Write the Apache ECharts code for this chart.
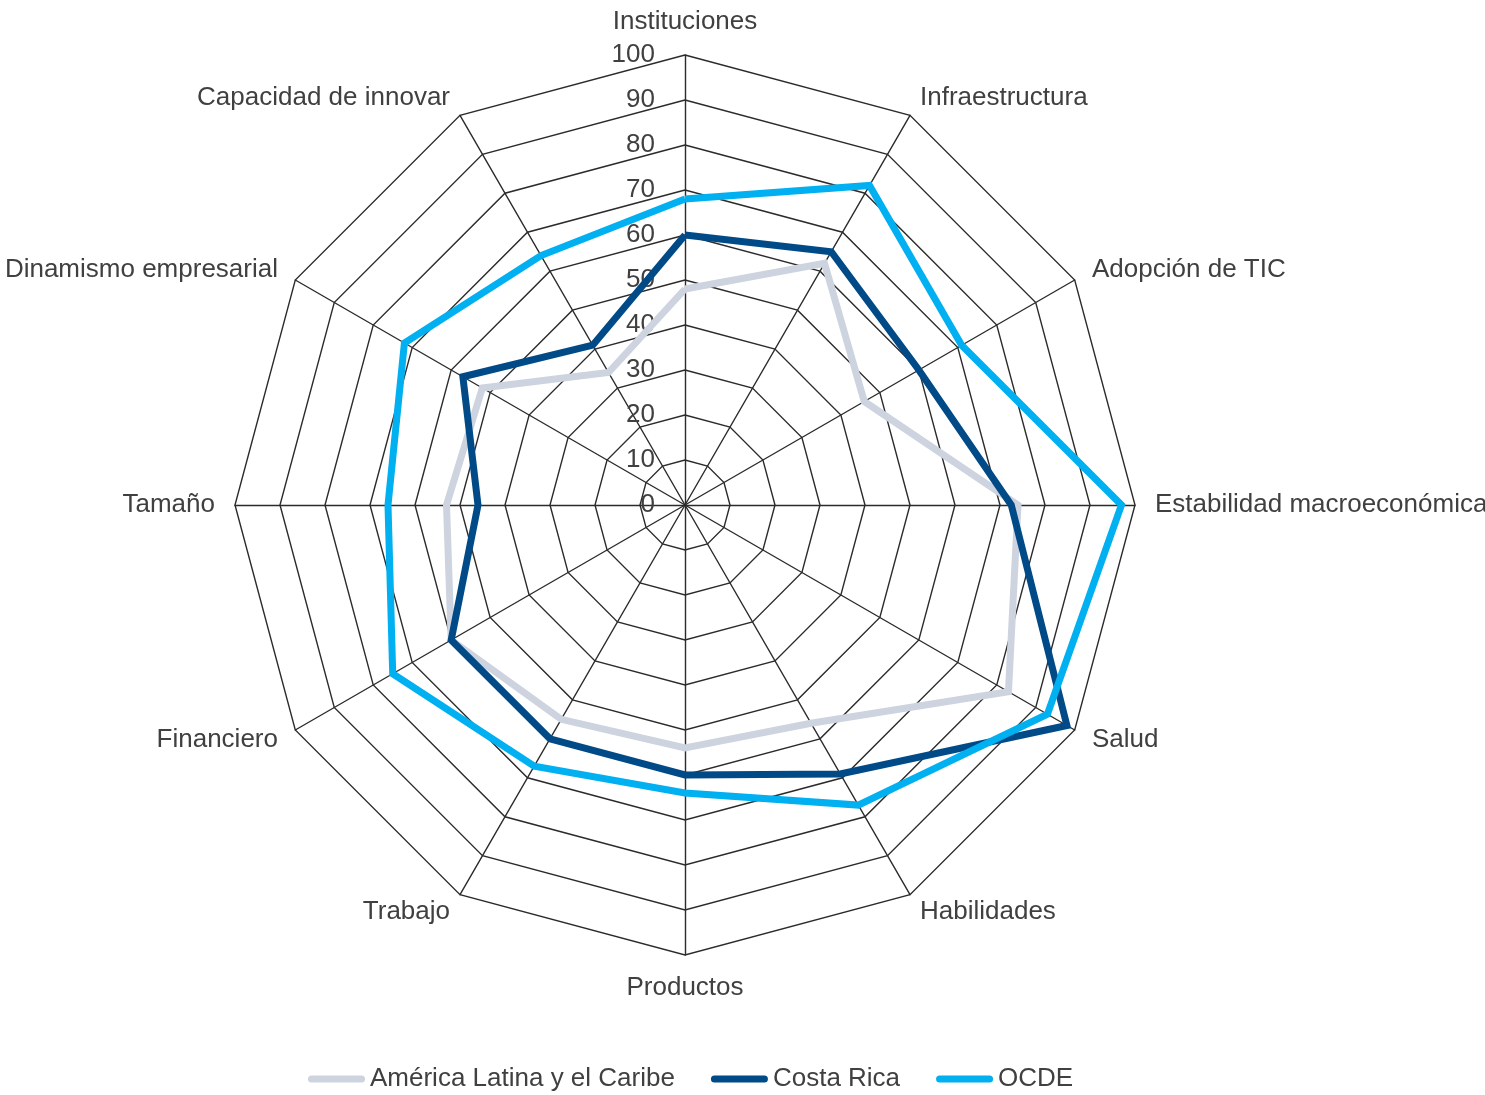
<!DOCTYPE html>
<html>
<head>
<meta charset="utf-8">
<title>Radar</title>
<script src="https://cdn.jsdelivr.net/npm/echarts@6/dist/echarts.min.js"></script>
<style>
    html, body { margin: 0; padding: 0; background: #fff; }
    #chart { width: 1485px; height: 1095px; }
</style>
</head>
<body>
<div id="chart"></div>
<script>
// Categories in clockwise order, starting at the top
const categories = [
    'Instituciones', 'Infraestructura', 'Adopción de TIC', 'Estabilidad macroeconómica',
    'Salud', 'Habilidades', 'Productos', 'Trabajo',
    'Financiero', 'Tamaño', 'Dinamismo empresarial', 'Capacidad de innovar'
];
const alcValues = [48, 62, 46, 74, 83, 56, 54, 55, 60, 53, 52, 34];
const crValues = [60, 65, 60, 72.5, 98, 69, 60, 60, 60, 46, 57, 41];
const ocdeValues = [68, 82, 71, 97, 93, 77, 64, 67, 75, 66, 72, 64];
const seriesNames = ['América Latina y el Caribe', 'Costa Rica', 'OCDE'];
const seriesColors = ['#cdd3df', '#004b87', '#00b0f0'];

// no narrow font available, so plain Liberation Sans a bit smaller
const fontFamily = "'Liberation Sans', Arial, sans-serif";
const textColor = '#404040';
const gridColor = '#2b2b2b';

// ECharts lays radar indicators out counter-clockwise, so keep the first one
// at the top and reverse the rest
const order = [0].concat(categories.slice(1).map((_, i) => categories.length - 1 - i));
const reorder = (arr) => order.map(i => arr[i]);

const indicators = reorder(categories).map((name, i) => {
    const ind = { name: name, min: 0, max: 100 };
    if (i === 0) {
        ind.axisLabel = {
            show: true,
            color: textColor,
            fontFamily: fontFamily,
            fontSize: 26,
            margin: 30
        };
    }
    return ind;
});

const legendIcon = 'path://M3.5,0 L53.5,0 A3.5,3.5 0 0 1 53.5,7 L3.5,7 A3.5,3.5 0 0 1 3.5,0 Z';

const chart = echarts.init(document.getElementById('chart'));
chart.setOption({
    animation: false,
    legend: {
        bottom: -2,
        left: 303,
        itemWidth: 57,
        itemHeight: 7,
        itemGap: 36,
        data: seriesNames.map(n => ({ name: n, icon: legendIcon })),
        textStyle: {
            color: textColor,
            fontFamily: fontFamily,
            fontSize: 26
        }
    },
    radar: {
        center: [685, 505],
        radius: 450,
        startAngle: 90,
        shape: 'polygon',
        splitNumber: 10,
        nameGap: 20,
        indicator: indicators,
        axisName: {
            color: textColor,
            fontFamily: fontFamily,
            fontSize: 26
        },
        axisLabel: { show: false },
        axisTick: { show: false },
        axisLine: {
            lineStyle: { color: gridColor, width: 1.4 }
        },
        splitLine: {
            lineStyle: { color: gridColor, width: 1.4 }
        },
        splitArea: { show: false }
    },
    series: [{
        type: 'radar',
        symbol: 'none',
        data: [alcValues, crValues, ocdeValues].map((vals, i) => ({
            name: seriesNames[i],
            value: reorder(vals),
            lineStyle: { color: seriesColors[i], width: 7, join: 'miter' },
            itemStyle: { color: seriesColors[i] }
        }))
    }]
});
</script>
</body>
</html>
